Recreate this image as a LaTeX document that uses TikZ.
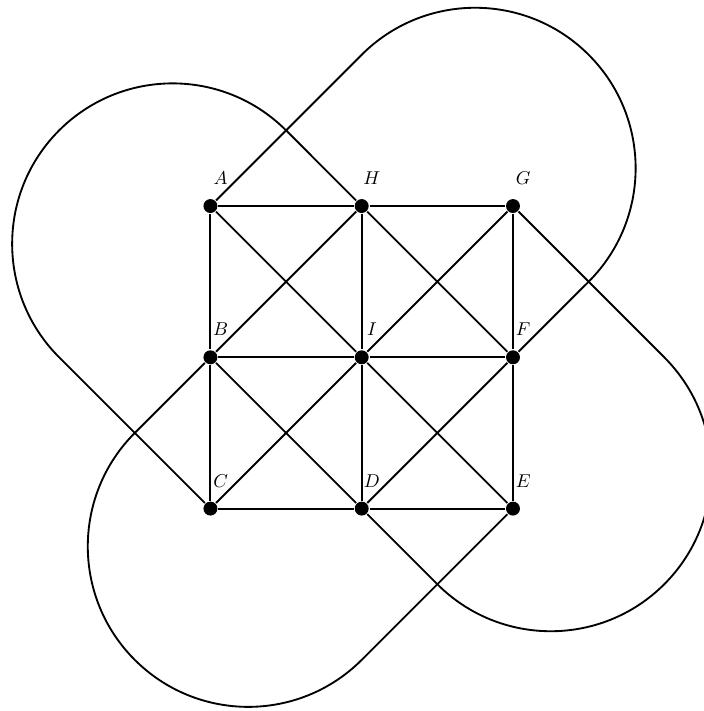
\documentclass[tikz,border=0pt]{standalone}
\usepackage{amsmath}
\usepackage{tikz}

\begin{document}
\begin{tikzpicture}[x=2.86cm,y=2.86cm,line width=1pt,
  dot/.style={circle,fill,inner sep=0pt,minimum size=7.5pt},
  lab/.style={xshift=5.5pt,yshift=3.5pt}]
  \useasboundingbox (-2.391,-2.338) rectangle (2.262,2.362);
  % vertices
  \foreach \n/\x/\y in {A/-1/1,H/0/1,G/1/1,B/-1/0,I/0/0,F/1/0,C/-1/-1,D/0/-1,E/1/-1}
    \node[dot,label={[lab]above:$\n$}] (\n) at (\x,\y) {};
  % grid lines
  \draw (A) -- (H) -- (G) -- (F) -- (E) -- (D) -- (C) -- (B) -- (A);
  \draw (B) -- (I) -- (F);
  \draw (H) -- (I) -- (D);
  % diagonals
  \draw (A) -- (I) -- (E);
  \draw (G) -- (I) -- (C);
  \draw (H) -- (B) -- (D) -- (F) -- (H);
  % outer loops
  \draw (A) -- (0,2) arc[start angle=135,end angle=-45,radius=1.0607] -- (F);
  \draw (G) -- (2,0) arc[start angle=45,end angle=-135,radius=1.0607] -- (D);
  \draw (E) -- (0,-2) arc[start angle=-45,end angle=-225,radius=1.0607] -- (B);
  \draw (C) -- (-2,0) arc[start angle=-135,end angle=-315,radius=1.0607] -- (H);
\end{tikzpicture}
\end{document}
